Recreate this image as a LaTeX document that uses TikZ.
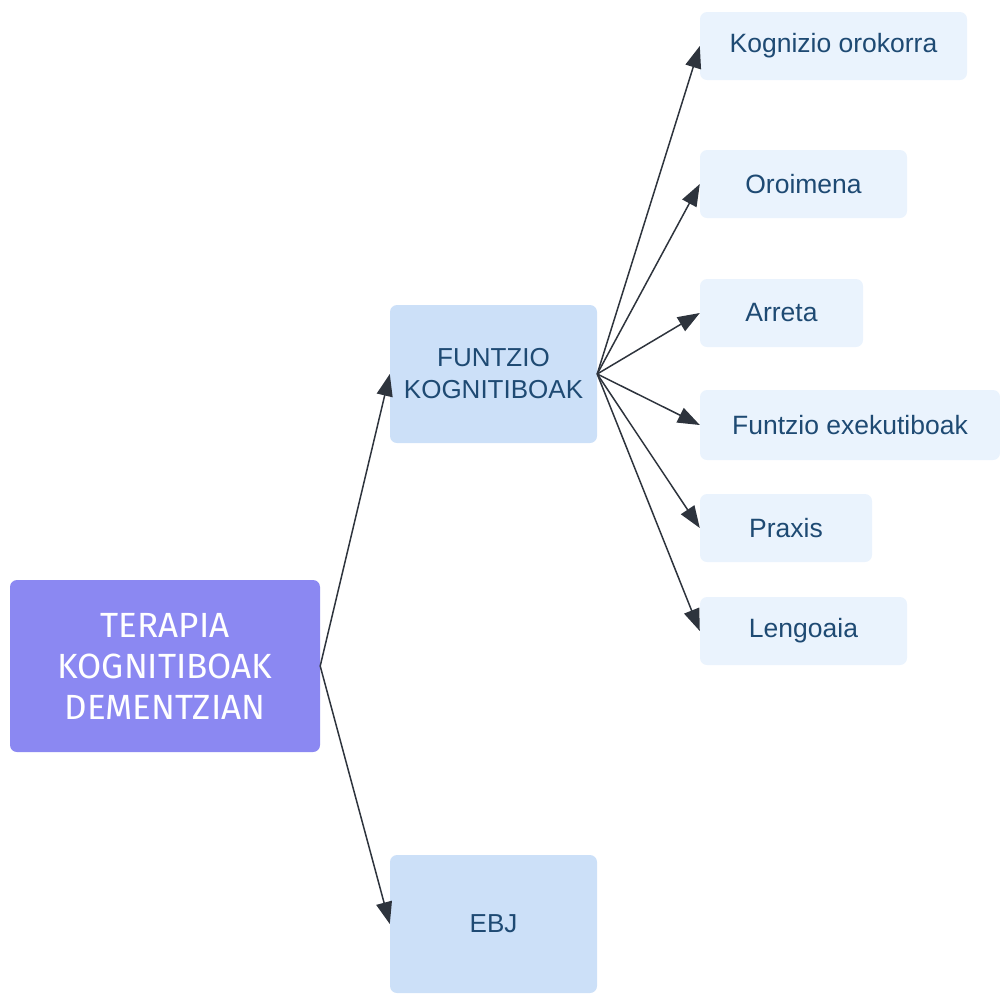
\documentclass[tikz,border=0pt]{standalone}
\usepackage{fontspec}
\setmainfont{Liberation Sans}
\newfontfamily\rootfont{Fira Sans}
\usetikzlibrary{arrows.meta,positioning}
\definecolor{cRoot}{HTML}{8B88F2}
\definecolor{cMid}{HTML}{CCE0F8}
\definecolor{cLeaf}{HTML}{EAF3FD}
\definecolor{cText}{HTML}{1E4A73}
\definecolor{cArrow}{HTML}{2E343D}

\begin{document}
\begin{tikzpicture}[x=1pt,y=-1pt,
  rootbox/.style={rectangle,rounded corners=7pt,fill=cRoot,text=white,align=center,
    font=\rootfont\fontsize{35}{41}\selectfont,inner sep=0pt},
  midbox/.style={rectangle,rounded corners=7pt,fill=cMid,text=cText,align=center,
    minimum width=207pt,minimum height=138pt,font=\fontsize{26}{32}\selectfont,inner sep=0pt},
  leafbox/.style={rectangle,rounded corners=7pt,fill=cLeaf,text=cText,align=center,
    minimum height=68pt,font=\fontsize{26.5}{30}\selectfont,inner sep=0pt},
  link/.style={cArrow,line width=1.5pt,-{Triangle[length=22pt,width=16pt]}}]
  \useasboundingbox (0,0) rectangle (1000,1005);
  % main blocks
  \node[rootbox,minimum width=310pt,minimum height=172pt] (terapia) at (165,666)
     {TERAPIA\\KOGNITIBOAK\\DEMENTZIAN};
  \node[midbox] (funtzio) at (493.5,374) {FUNTZIO\\KOGNITIBOAK};
  \node[midbox] (ebj) at (493.5,924) {EBJ};
  % leaves
  \node[leafbox,minimum width=267pt] (kognizio) at (833.5,46) {Kognizio orokorra};
  \node[leafbox,minimum width=207pt] (oroimena) at (803.5,184) {Oroimena};
  \node[leafbox,minimum width=163pt] (arreta) at (781.5,313) {Arreta};
  \node[leafbox,minimum width=300pt,minimum height=70pt] (exekutibo) at (850,425) {Funtzio exekutiboak};
  \node[leafbox,minimum width=172pt] (praxis) at (786,528) {Praxis};
  \node[leafbox,minimum width=207pt] (lengoaia) at (803.5,631) {Lengoaia};
  % connectors
  \draw[link] (terapia.east) -- (funtzio.west);
  \draw[link] (terapia.east) -- (ebj.west);
  \foreach \n in {kognizio,oroimena,arreta,exekutibo,praxis,lengoaia}
    \draw[link] (funtzio.east) -- (\n.west);
\end{tikzpicture}
\end{document}
